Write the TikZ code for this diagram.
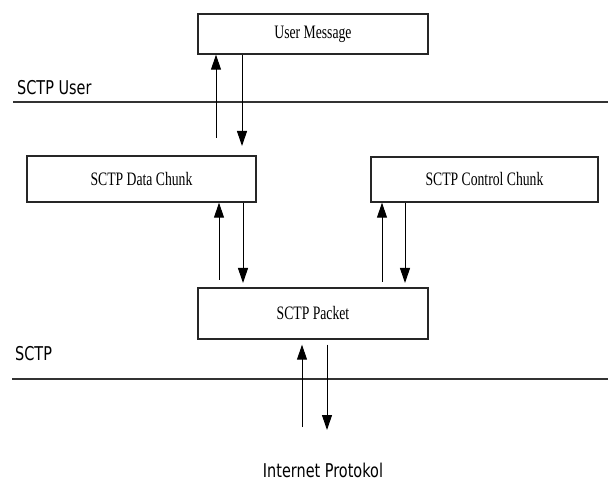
\documentclass[tikz,border=0pt]{standalone}
\usepackage{fontspec}
\setmainfont{Liberation Serif}[FakeStretch=0.72]
\newfontfamily\capafont{DejaVu Sans}[FakeStretch=0.76]
\usetikzlibrary{arrows.meta}

\begin{document}
\begin{tikzpicture}[
        x=1pt, y=-1pt,
        caja/.style={rectangle, draw=black!85, line width=1.4pt, minimum width=230pt, minimum height=45pt, inner sep=0pt, font=\fontsize{19}{19}\selectfont},
        flecha/.style={-{Triangle[length=15pt,width=10pt]}, line width=1pt},
        capa/.style={line width=2pt, draw=black!80},
        rotulo/.style={inner sep=0pt, font=\capafont\fontsize{19}{19}\selectfont}
    ]
        \useasboundingbox (0,0) rectangle (608,481);

        % Cajas de mensajes y paquetes
        \node[caja, minimum height=40pt] (msg) at (313,34) {User Message};
        \node[caja, minimum width=229pt, minimum height=46pt] (data) at (141.5,179) {SCTP Data Chunk};
        \node[caja, minimum width=227pt] (ctrl) at (484.5,179.5) {SCTP Control Chunk};
        \node[caja, minimum height=51pt] (pkt) at (313,313.5) {SCTP Packet};

        % Capas
        \draw[capa] (13,102) -- (608,102);
        \draw[capa] (12,379) -- (608,379);
        \node[rotulo, anchor=base west] (user) at (17,95) {SCTP User};
        \node[rotulo, anchor=base west] (sctp) at (15,360) {SCTP};
        \node[rotulo, anchor=base] (ip) at (323,477) {Internet Protokol};

        % Extremos libres de las flechas
        \coordinate (a1) at (216,138);
        \coordinate (b1) at (242,146);
        \coordinate (a2) at (219,280);
        \coordinate (b2) at (243,283);
        \coordinate (a3) at (382,282);
        \coordinate (b3) at (405,283);
        \coordinate (a4) at (302,427);
        \coordinate (b4) at (327,430);

        % Flechas entre capas
        \draw[flecha] (a1) -- (a1 |- msg.south);
        \draw[flecha] (b1 |- msg.south) -- (b1);
        \draw[flecha] (a2) -- (a2 |- data.south);
        \draw[flecha] (b2 |- data.south) -- (b2);
        \draw[flecha] (a3) -- (a3 |- ctrl.south);
        \draw[flecha] (b3 |- ctrl.south) -- (b3);
        \draw[flecha, shorten >=5pt] (a4) -- (a4 |- pkt.south);
        \draw[flecha, shorten <=5pt] (b4 |- pkt.south) -- (b4);
        \end{tikzpicture}
\end{document}
